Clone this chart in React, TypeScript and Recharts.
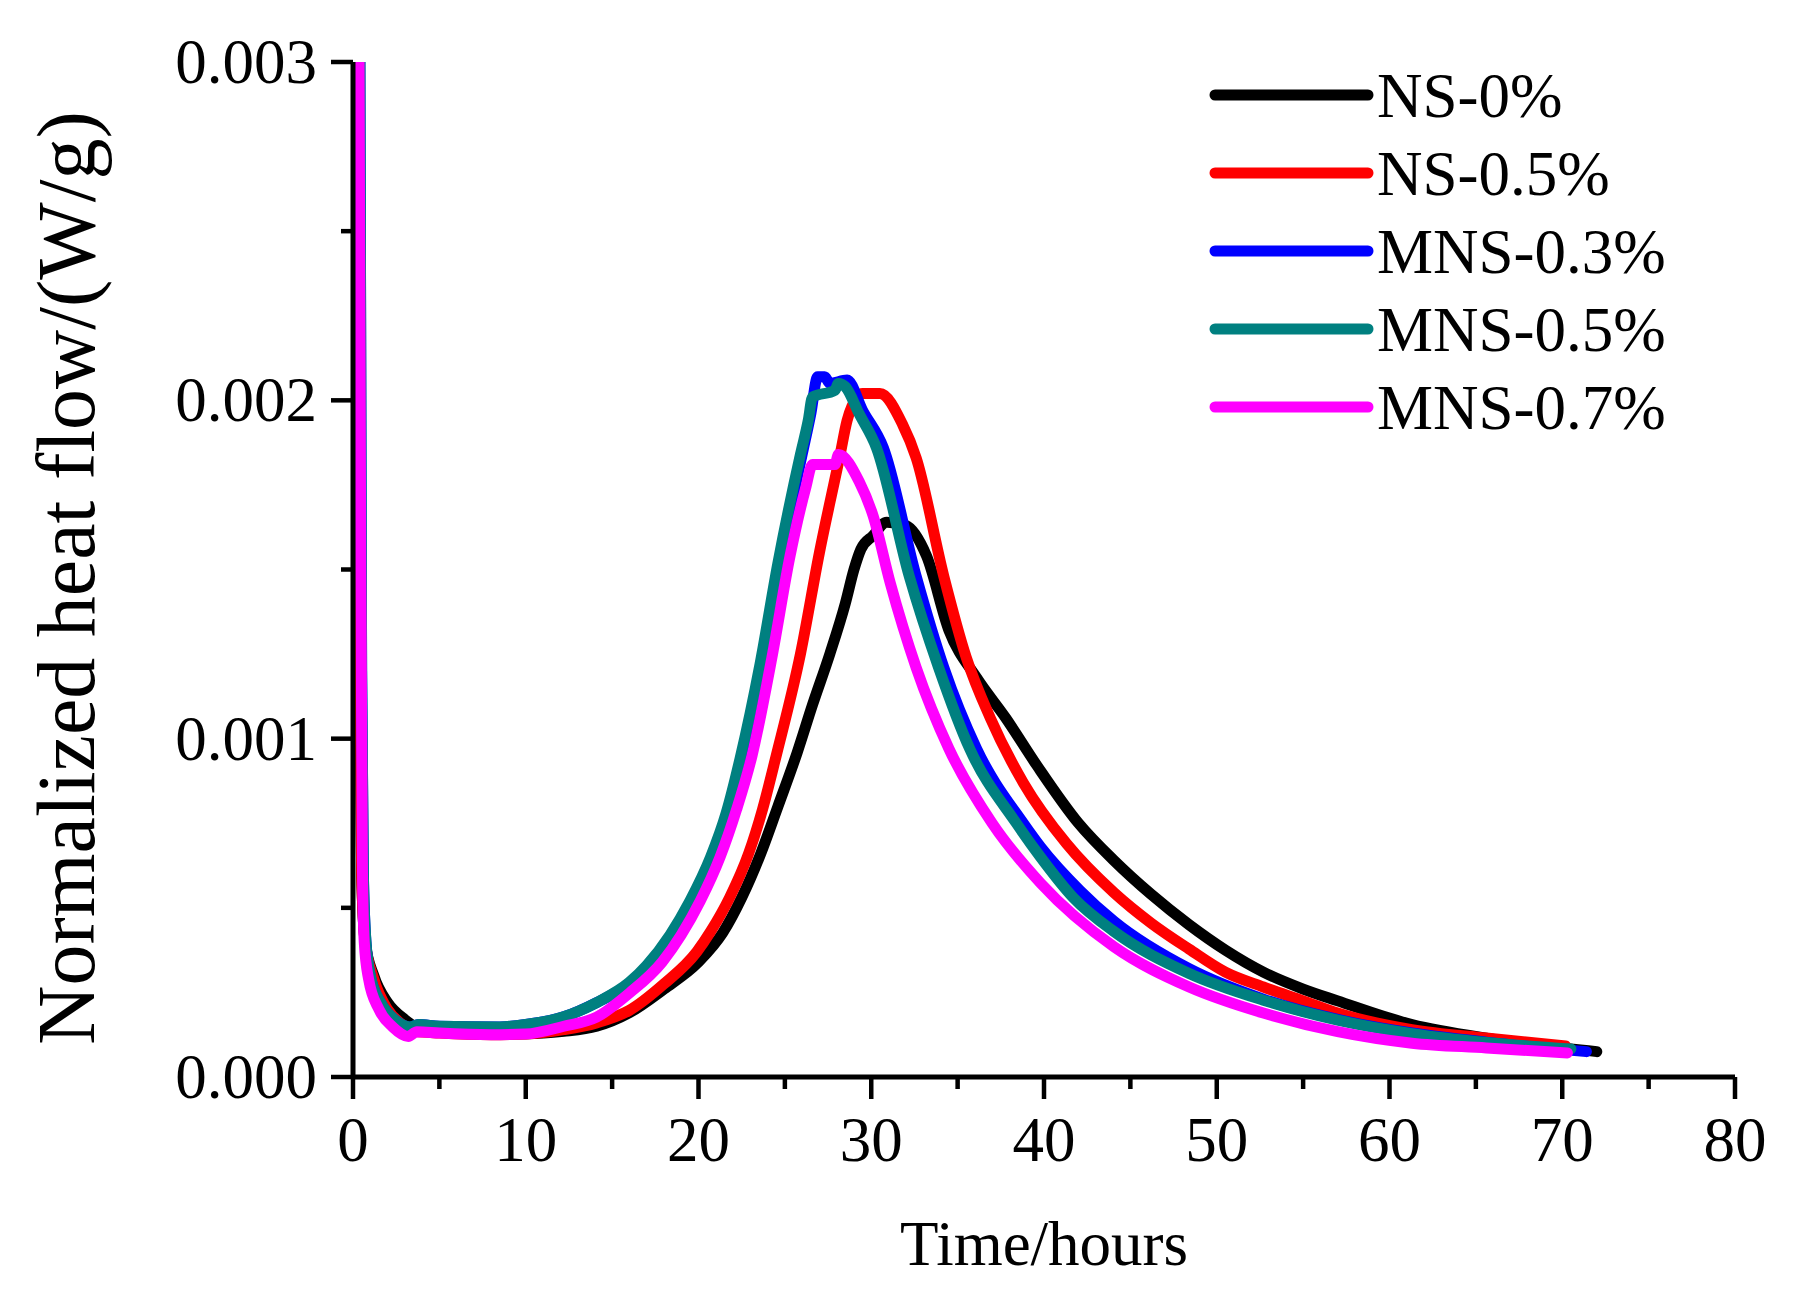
import React from "react";
import { LineChart, Line, XAxis, YAxis } from "recharts";

const FONT = '"Liberation Serif", "Times New Roman", serif';

// --- data (hours, W/g) ---
const ns0Hours = [0.3, 0.4, 0.5, 0.7, 1.2, 2.0, 3.0, 3.6, 4.5, 6, 8, 10, 12.2, 14.1, 16, 18, 20, 21.4, 22.5, 23.6, 24.6, 25.7, 26.6, 27.6, 28.5, 29.0, 29.4, 30.1, 30.9, 32.0, 33.2, 34.5, 36.1, 37.8, 39.6, 42.0, 44.05, 46.2, 48.4, 50.5, 52.7, 55, 57, 61.3, 65.6, 69, 72];
const ns0Flow = [0.003, 0.0012, 0.0006, 0.0004, 0.0003, 0.00022, 0.00017, 0.00015, 0.000145, 0.000135, 0.00013, 0.000128, 0.000135, 0.00015, 0.00019, 0.00026, 0.00034, 0.000426, 0.00053, 0.00066, 0.0008, 0.000957, 0.0011, 0.00125, 0.0014, 0.0015, 0.00156, 0.0016, 0.00164, 0.00163, 0.00154, 0.00132, 0.00118, 0.00106, 0.00092, 0.00075, 0.00064, 0.00054, 0.00045, 0.000375, 0.00031, 0.00026, 0.000225, 0.000155, 0.000115, 0.000092, 0.000075];

const ns05Hours = [0.3, 0.4, 0.5, 0.7, 1.2, 2.0, 3.0, 3.6, 5, 8, 10, 12.2, 14.1, 16, 18, 19.9, 20.7, 21.8, 22.9, 23.7, 24.5, 25.9, 27.0, 28.2, 28.6, 29.2, 29.5, 30.5, 31.8, 32.6, 34.2, 35.5, 36.9, 38.8, 41.3, 44.05, 46.2, 48.4, 50.5, 52.7, 55, 57, 61.3, 65.6, 70.2];
const ns05Flow = [0.003, 0.0012, 0.0006, 0.0004, 0.00029, 0.0002, 0.00015, 0.000135, 0.00013, 0.000125, 0.000127, 0.00014, 0.00016, 0.000197, 0.000275, 0.00037, 0.00043, 0.00053, 0.00066, 0.00079, 0.00095, 0.00125, 0.00155, 0.00184, 0.00194, 0.00201, 0.00202, 0.00202, 0.00193, 0.00183, 0.00148, 0.00124, 0.00106, 0.00087, 0.00069, 0.000545, 0.000455, 0.000378, 0.00031, 0.000266, 0.000225, 0.000189, 0.00014, 0.000115, 0.000092];

const mns03Hours = [0.4, 0.5, 0.6, 0.75, 1.0, 1.6, 2.4, 3.3, 3.8, 5, 8.5, 10, 12.2, 14.1, 16.1, 17.1, 18.45, 19.6, 20.8, 21.7, 22.5, 23.66, 24.7, 26.0, 26.5, 26.9, 27.3, 27.6, 28.6, 29.5, 30.7, 32.6, 34.2, 36.1, 38.8, 39.8, 42.1, 44.05, 48.4, 52.7, 57, 61.3, 65.6, 71.4];
const mns03Flow = [0.003, 0.0012, 0.0006, 0.0004, 0.0003, 0.00022, 0.00017, 0.000148, 0.000155, 0.00015, 0.000148, 0.000155, 0.000178, 0.00022, 0.00028, 0.00033, 0.00042, 0.00052, 0.00065, 0.00078, 0.00094, 0.00122, 0.00152, 0.00184, 0.00196, 0.00207, 0.00207, 0.00205, 0.00206, 0.00197, 0.00186, 0.00148, 0.00121, 0.00097, 0.00075, 0.00068, 0.00055, 0.00046, 0.00032, 0.00023, 0.00017, 0.00013, 0.000103, 0.000075];

const mns05Hours = [0.4, 0.5, 0.6, 0.75, 1.0, 1.6, 2.4, 3.3, 3.8, 5, 8.5, 10, 12.2, 14.1, 16, 17, 18.35, 19.5, 20.7, 21.6, 22.4, 23.56, 24.6, 25.9, 26.35, 26.6, 27.9, 28.1, 28.5, 29.3, 30.3, 32.2, 33.9, 35.7, 38.4, 39.8, 41.7, 44.05, 48.4, 52.7, 57, 61.3, 65.6, 70.5];
const mns05Flow = [0.003, 0.0012, 0.0006, 0.0004, 0.0003, 0.00022, 0.00017, 0.000148, 0.000155, 0.00015, 0.000148, 0.000155, 0.000178, 0.00022, 0.00028, 0.00033, 0.00042, 0.00052, 0.00065, 0.00078, 0.00094, 0.00122, 0.00152, 0.00184, 0.00194, 0.00201, 0.00203, 0.00205, 0.00204, 0.00196, 0.00186, 0.00148, 0.00121, 0.00097, 0.00075, 0.00065, 0.00053, 0.00043, 0.000306, 0.000227, 0.000168, 0.000128, 0.000102, 0.000083];

const mns07Hours = [0.35, 0.45, 0.55, 0.65, 0.9, 1.5, 2.3, 3.2, 3.7, 5, 8, 10, 12.2, 14.1, 16, 17.9, 19.0, 20.1, 21.25, 22.2, 23.1, 24.25, 25.3, 26.2, 26.6, 27.9, 28.1, 29.3, 30.1, 31.1, 32.6, 34.5, 37, 39.8, 44.05, 48.4, 52.7, 57, 61.3, 65.6, 70.3];
const mns07Flow = [0.003, 0.0015, 0.0006, 0.0004, 0.00029, 0.0002, 0.000148, 0.00012, 0.000134, 0.00013, 0.000125, 0.000127, 0.00015, 0.000177, 0.000248, 0.00034, 0.00042, 0.00052, 0.00065, 0.00079, 0.00095, 0.00124, 0.00154, 0.00174, 0.00181, 0.00181, 0.00184, 0.00176, 0.00166, 0.00146, 0.00121, 0.00097, 0.00075, 0.000573, 0.000385, 0.000266, 0.000189, 0.000134, 0.0001, 0.000086, 0.000071];

const xTicks = [0, 5, 10, 15, 20, 25, 30, 35, 40, 45, 50, 55, 60, 65, 70, 75, 80];
const yTicks = [0, 0.0005, 0.001, 0.0015, 0.002, 0.0025, 0.003];

const toRows = (hours: number[], flow: number[]) =>
  hours.map((h, i) => ({ hours: h, flow: flow[i] }));

const series = [
  { name: "NS-0%", color: "#000000", data: toRows(ns0Hours, ns0Flow) },
  { name: "NS-0.5%", color: "#FF0000", data: toRows(ns05Hours, ns05Flow) },
  { name: "MNS-0.3%", color: "#0000FF", data: toRows(mns03Hours, mns03Flow) },
  { name: "MNS-0.5%", color: "#008080", data: toRows(mns05Hours, mns05Flow) },
  { name: "MNS-0.7%", color: "#FF00FF", data: toRows(mns07Hours, mns07Flow) },
];

const XTick = (props: any) => {
  const { x, y, payload } = props;
  const major = payload.value % 10 === 0;
  return (
    <g>
      <line x1={x} y1={y} x2={x} y2={y + (major ? 22 : 12)} stroke="#000" strokeWidth={4.5} />
      {major && (
        <text x={x} y={y + 84} textAnchor="middle" fontSize={63} fontFamily={FONT} fill="#000">
          {payload.value}
        </text>
      )}
    </g>
  );
};

const YTick = (props: any) => {
  const { x, y, payload } = props;
  const major = Math.round(payload.value * 10000) % 10 === 0;
  return (
    <g>
      <line x1={x} y1={y} x2={x - (major ? 22 : 12)} y2={y} stroke="#000" strokeWidth={4.5} />
      {major && (
        <text x={x - 36} y={y + 21} textAnchor="end" fontSize={63} fontFamily={FONT} fill="#000">
          {payload.value.toFixed(3)}
        </text>
      )}
    </g>
  );
};

export default function App() {
  return (
    <div style={{ position: "absolute", left: 0, top: 0, width: 1798, height: 1296, background: "#fff" }}>
      <LineChart width={1798} height={1296} margin={{ top: 62, right: 63, left: 0, bottom: 0 }}>
        <XAxis
          dataKey="hours"
          type="number"
          domain={[0, 80]}
          ticks={xTicks}
          interval={0}
          height={219}
          tickSize={0}
          tickMargin={0}
          tickLine={false}
          axisLine={{ stroke: "#000", strokeWidth: 5 }}
          tick={<XTick />}
          label={() => (
            <text x={1044} y={1265} textAnchor="middle" fontSize={63} fontFamily={FONT} fill="#000">
              Time/hours
            </text>
          )}
        />
        <YAxis
          type="number"
          domain={[0, 0.003]}
          allowDataOverflow
          ticks={yTicks}
          interval={0}
          width={353}
          tickSize={0}
          tickMargin={0}
          tickLine={false}
          axisLine={{ stroke: "#000", strokeWidth: 5 }}
          tick={<YTick />}
          label={() => (
            <text
              x={94}
              y={578}
              transform="rotate(-90, 94, 578)"
              textAnchor="middle"
              fontSize={82}
              fontFamily={FONT}
              fill="#000"
            >
              Normalized heat flow/(W/g)
            </text>
          )}
        />
        {series.map((s) => (
          <Line
            key={s.name}
            data={s.data}
            dataKey="flow"
            name={s.name}
            type="monotone"
            stroke={s.color}
            strokeWidth={11}
            strokeLinecap="round"
            strokeLinejoin="round"
            dot={false}
            activeDot={false}
            isAnimationActive={false}
          />
        ))}
      </LineChart>
      {/* legend */}
      <svg style={{ position: "absolute", left: 1205, top: 50 }} width={590} height={400}>
        {series.map((s, i) => (
          <g key={s.name}>
            <line x1={10} x2={163} y1={45 + i * 78} y2={45 + i * 78} stroke={s.color} strokeWidth={11} strokeLinecap="round" />
            <text x={172} y={67 + i * 78} fontSize={63} fontFamily={FONT} fill="#000">
              {s.name}
            </text>
          </g>
        ))}
      </svg>
    </div>
  );
}
